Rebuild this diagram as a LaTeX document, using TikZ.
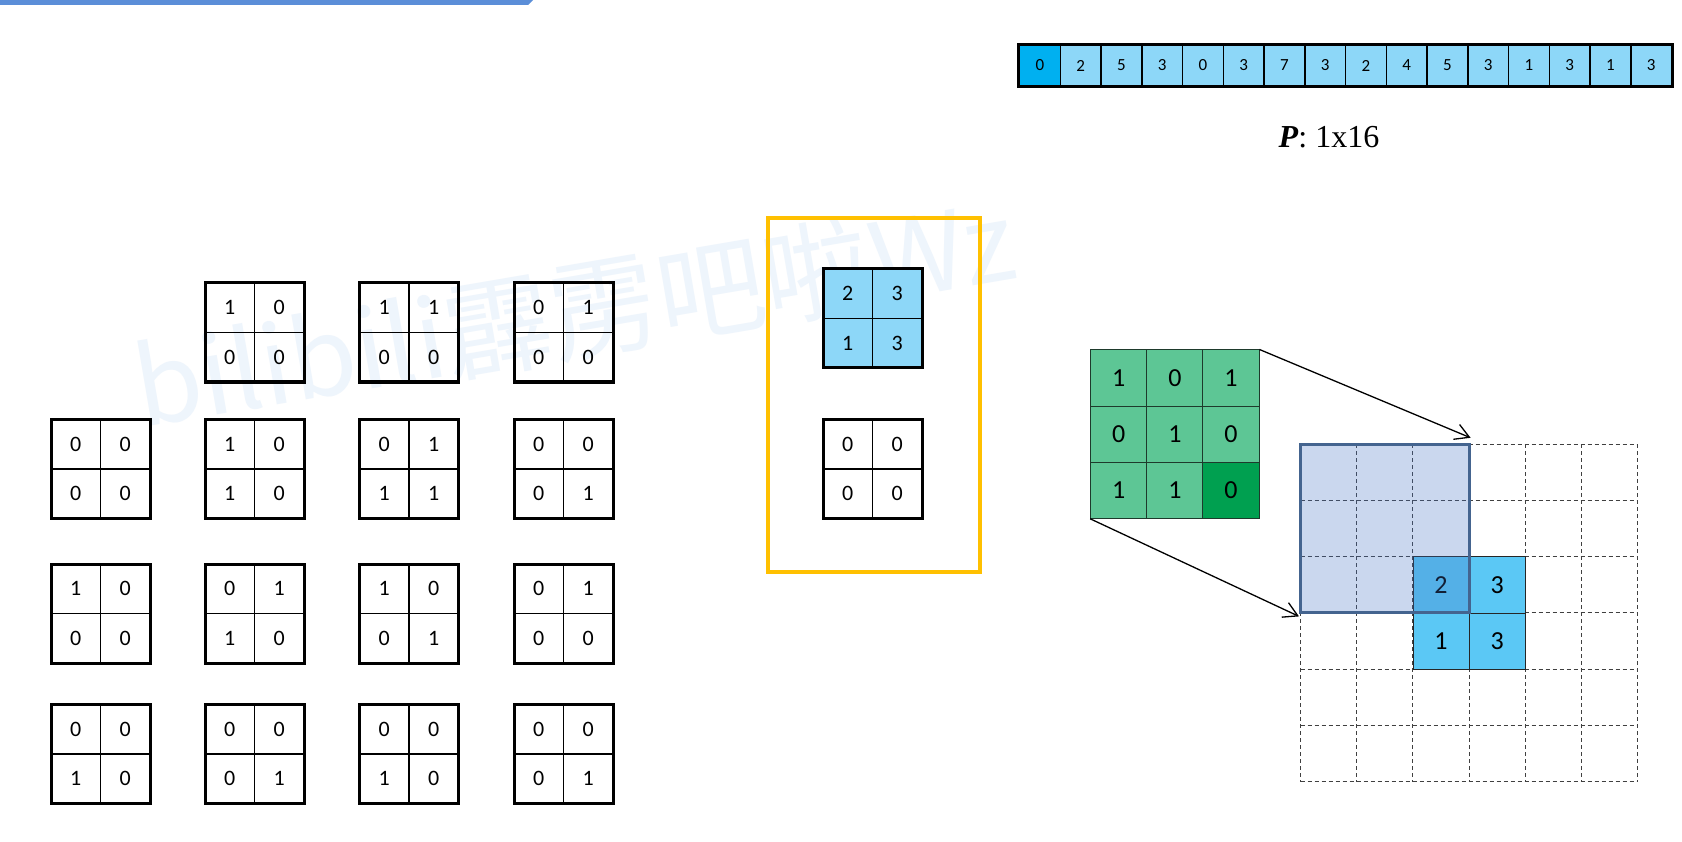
\documentclass[tikz,border=0pt]{standalone}
\usepackage{fontspec}
\setmainfont{Carlito}
\newfontfamily\timesf{Liberation Serif}
\newfontfamily\cjkf{Noto Sans CJK SC}
\usetikzlibrary{arrows.meta}
\definecolor{lightsky}{HTML}{8DD7F8}
\definecolor{darksky}{HTML}{00B0F0}
\definecolor{skyb}{HTML}{5BC8F5}
\definecolor{greenc}{HTML}{5DC695}
\definecolor{greend}{HTML}{00A050}
\definecolor{gline}{HTML}{1E3A2C}
\definecolor{winfill}{HTML}{4472C4}
\definecolor{winline}{HTML}{44648F}
\definecolor{framey}{HTML}{FFC000}
\definecolor{banner}{HTML}{5B8ED8}
\definecolor{wmark}{HTML}{EEF5FC}
\newcommand\quadbox[8]{%
  \foreach \v/\i/\j in {#5/0/0,#6/1/0,#7/0/1,#8/1/1}{%
    \node[qcell,fill=#4] (#1-\j\i) at ({#2+24.75+49.5*\i},{#3+24.75+49.5*\j}) {\v};
  }
  \draw[qouter] (#2,#3) rectangle ++(99,99);
}
\begin{document}
\begin{tikzpicture}[x=1pt,y=-1pt,
  qcell/.style={draw=black, line width=1.6pt, minimum size=49.5pt, inner sep=0pt, font=\fontsize{22}{22}\selectfont},
  qouter/.style={draw=black, line width=3pt},
  vcell/.style={draw=black, line width=1.5pt, minimum width=40.75pt, minimum height=41pt, inner sep=0pt, fill=lightsky, font=\fontsize{17}{17}\selectfont},
  gcell/.style={draw=gline, line width=1pt, minimum size=56.1pt, inner sep=0pt, fill=greenc, font=\fontsize{26}{26}\selectfont},
  bcell/.style={draw=black!85, line width=0.8pt, minimum size=56.2pt, inner sep=0pt, fill=skyb, font=\fontsize{26}{26}\selectfont},
  dgrid/.style={dash pattern=on 4pt off 3pt, line width=1pt, draw=black!75},
  win/.style={fill=winfill, fill opacity=0.28, draw=winline, line width=3pt, minimum size=168.6pt, inner sep=0pt},
  framebox/.style={draw=framey, line width=4pt, minimum width=211.5pt, minimum height=354pt, inner sep=0pt, outer sep=0pt},
  arr/.style={-{Straight Barb[length=14pt,width=16pt]}, line width=1.3pt},
  wm/.style={font=\cjkf\fontsize{108}{108}\selectfont, text=wmark, inner sep=0pt}
]
\useasboundingbox (0,0) rectangle (1682,842);
\fill[white] (0,0) rectangle (1682,842);
\fill[banner] (0,0) -- (533,0) -- (528,5) -- (0,5) -- cycle;
\node[wm, anchor=base west, rotate=9.7] (wmtext) at (142,428) {bilibili霹雳吧啦Wz};
% left boxes
\quadbox{a1}{205}{283}{none}{1}{0}{0}{0}
\quadbox{a2}{359.5}{283}{none}{1}{1}{0}{0}
\quadbox{a3}{514}{283}{none}{0}{1}{0}{0}
\quadbox{b0}{51}{419.5}{none}{0}{0}{0}{0}
\quadbox{b1}{205}{419.5}{none}{1}{0}{1}{0}
\quadbox{b2}{359.5}{419.5}{none}{0}{1}{1}{1}
\quadbox{b3}{514}{419.5}{none}{0}{0}{0}{1}
\quadbox{c0}{51}{564}{none}{1}{0}{0}{0}
\quadbox{c1}{205}{564}{none}{0}{1}{1}{0}
\quadbox{c2}{359.5}{564}{none}{1}{0}{0}{1}
\quadbox{c3}{514}{564}{none}{0}{1}{0}{0}
\quadbox{d0}{51}{704.5}{none}{0}{0}{1}{0}
\quadbox{d1}{205}{704.5}{none}{0}{0}{0}{1}
\quadbox{d2}{359.5}{704.5}{none}{0}{0}{1}{0}
\quadbox{d3}{514}{704.5}{none}{0}{0}{0}{1}
% frame
\node[framebox, anchor=north west] (frame) at (768,218) {};
\quadbox{f1}{823}{269}{lightsky}{2}{3}{1}{3}
\quadbox{f2}{823}{419.5}{none}{0}{0}{0}{0}
% vector P
\node[vcell, fill=darksky] (p0) at ({1019.5+20.375},65.5) {0};
\foreach \v [count=\k from 1] in {2,5,3,0,3,7,3,2,4,5,3,1,3,1,3}{
  \node[vcell] (p\k) at ({1019.5+20.375+40.75*\k},65.5) {\v};
}
\draw[line width=3pt] (p0.north west) rectangle (p15.south east);
\node[anchor=base, font=\timesf\fontsize{32}{32}\selectfont] (plabel) at (1329,148) {\textbf{\textit{P}}: 1x16};
% green kernel
\foreach \r/\c/\v in {1/1/1,1/2/0,1/3/1,2/1/0,2/2/1,2/3/0,3/1/1,3/2/1}{
  \node[gcell] (g-\r\c) at ({1090.7+28.05+56.1*(\c-1)},{350+28.05+56.1*(\r-1)}) {\v};
}
\node[gcell, fill=greend] (g-33) at ({1090.7+28.05+56.1*2},{350+28.05+56.1*2}) {0};
% dashed grid
\foreach \k in {0,...,6}{
  \draw[dgrid] ({1300.5+56.2*\k},444.3) -- ({1300.5+56.2*\k},781.5);
  \draw[dgrid] (1300.5,{444.3+56.2*\k}) -- (1637.7,{444.3+56.2*\k});
}
\node[bcell] (o-11) at (1441,584.8) {2};
\node[bcell] (o-12) at (1497.2,584.8) {3};
\node[bcell] (o-21) at (1441,641) {1};
\node[bcell] (o-22) at (1497.2,641) {3};
\node[win] (win) at (1384.8,528.6) {};
% arrows
\draw[arr] (g-13.north east) -- ([yshift=5pt]win.north east);
\draw[arr] (g-31.south west) -- ([yshift=-2pt]win.south west);
\end{tikzpicture}
\end{document}
